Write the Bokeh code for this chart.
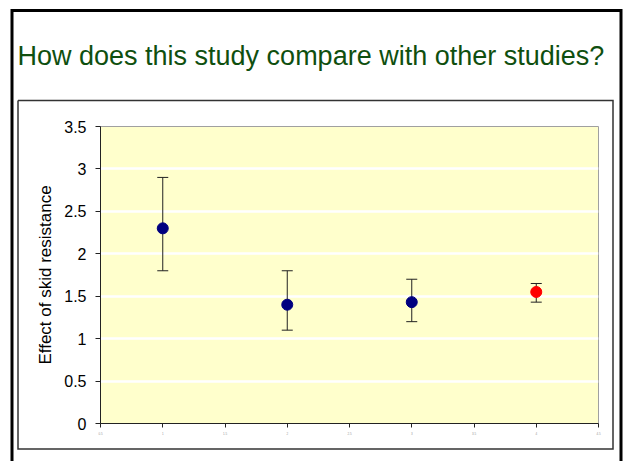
from bokeh.plotting import figure
from bokeh.models import (Range1d, FixedTicker, NumeralTickFormatter, ColumnDataSource,
                          Whisker, TeeHead)
from bokeh.core.properties import value
from bokeh.embed import file_html
from bokeh.resources import INLINE

# ---- data ----
study_pos = [1, 2, 3, 4]
effect = [2.3, 1.4, 1.43, 1.55]
upper = [2.9, 1.8, 1.7, 1.65]
lower = [1.8, 1.1, 1.2, 1.43]
colors = ["#000080", "#000080", "#000080", "#FF0000"]
x_ticks = [0.5, 1, 1.5, 2, 2.5, 3, 3.5, 4, 4.5]
y_ticks = [0, 0.5, 1, 1.5, 2, 2.5, 3, 3.5]
title_text = "How does this study compare with other studies?"
y_label = "Effect of skid resistance"

FONT = "Liberation Sans"
W, H = 625, 461
FL, FT, FR, FB = 100, 126, 598, 423  # frame box in canvas px
X0, X1, Y0, Y1 = 0.5, 4.5, 0.0, 3.5

p = figure(width=W, height=H, output_backend="svg", toolbar_location=None,
           x_range=Range1d(X0, X1), y_range=Range1d(Y0, Y1),
           min_border_left=FL, min_border_top=FT,
           min_border_right=W - FR, min_border_bottom=H - FB)
p.background_fill_color = "#FFFFCC"
p.border_fill_color = "white"
p.outline_line_color = "#A0A0A0"
p.outline_line_width = 1

p.xgrid.visible = False
p.ygrid.ticker = FixedTicker(ticks=y_ticks)
p.ygrid.grid_line_color = "white"
p.ygrid.grid_line_width = 2.5

xa = p.xaxis[0]
xa.ticker = FixedTicker(ticks=x_ticks)
xa.formatter = NumeralTickFormatter(format="0.[0]")
xa.major_label_text_font_size = "3px"
xa.major_label_text_color = "#999999"
xa.major_label_text_font = FONT
xa.major_tick_in = 0
xa.major_tick_out = 4
xa.minor_tick_line_color = None
xa.axis_line_color = "#222222"
xa.major_tick_line_color = "#222222"
xa.major_label_standoff = 4

ya = p.yaxis[0]
ya.ticker = FixedTicker(ticks=y_ticks)
ya.formatter = NumeralTickFormatter(format="0.[0]")
ya.major_label_text_font_size = "16px"
ya.major_label_text_font = FONT
ya.major_label_text_color = "black"
ya.major_tick_in = 0
ya.major_tick_out = 5
ya.minor_tick_line_color = None
ya.axis_line_color = "#222222"
ya.major_tick_line_color = "#222222"
ya.major_label_standoff = 9
ya.axis_label = y_label
ya.axis_label_text_font = FONT
ya.axis_label_text_font_size = "17px"
ya.axis_label_text_font_style = "normal"
ya.axis_label_text_color = "black"
ya.axis_label_standoff = 6

src = ColumnDataSource(dict(x=study_pos, y=effect, upper=upper, lower=lower, color=colors))
wh = Whisker(base="x", upper="upper", lower="lower", source=src, dimension="height",
             line_color="#222222", line_width=1,
             upper_head=TeeHead(size=11, line_color="#222222", line_width=1),
             lower_head=TeeHead(size=11, line_color="#222222", line_width=1))
p.add_layout(wh)
p.scatter("x", "y", source=src, size=11, fill_color="color", line_color="color")

# ---- slide decorations: canvas px -> data coords (overlay level, not clipped) ----
def xd(cx):
    return X0 + (cx - FL) / (FR - FL) * (X1 - X0)

def yd(cy):
    return Y0 + (FB - cy) / (FB - FT) * (Y1 - Y0)

# outer slide border
p.line([xd(11.5), xd(11.5), xd(620.5), xd(620.5)], [yd(490), yd(10), yd(10), yd(490)],
       line_color="black", line_width=3, line_join="miter", level="overlay")

# inner chart box
p.line([xd(17.5), xd(612.5), xd(612.5), xd(17.5), xd(17.5)],
       [yd(100), yd(100), yd(448.5), yd(448.5), yd(100)],
       line_color="#333333", line_width=1.5, line_join="miter", level="overlay")

# slide title
p.text(x=[xd(17)], y=[yd(55)], text=[title_text], text_font=value(FONT),
       text_font_size="27px", text_color="#0F4F0F", text_baseline="alphabetic",
       text_align="left", level="overlay")

open("out.html", "w").write(file_html(p, INLINE))
